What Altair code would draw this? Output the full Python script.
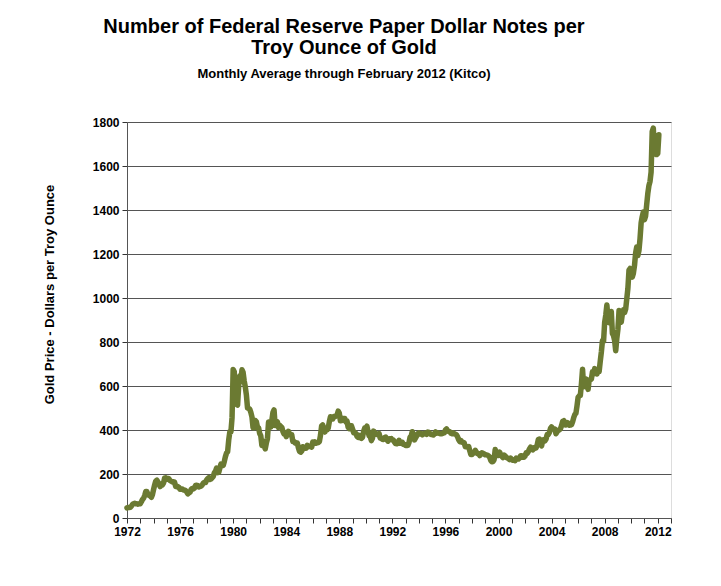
import altair as alt
import pandas as pd

# Monthly average gold price (USD / troy oz), Jan 1972 - Feb 2012
prices_1970s = [
    46, 48, 48, 49, 54, 62, 65, 67, 65, 65, 63, 64,          # 1972
    65, 74, 84, 90, 102, 120, 120, 106, 103, 100, 94, 106,   # 1973
    129, 150, 168, 172, 163, 154, 143, 154, 151, 158, 181, 183,  # 1974
    176, 180, 178, 170, 167, 164, 165, 163, 144, 142, 143, 139,  # 1975
    131, 132, 132, 128, 126, 125, 118, 110, 114, 117, 130, 134,  # 1976
    132, 136, 148, 149, 147, 141, 143, 145, 150, 159, 162, 161,  # 1977
    173, 179, 183, 175, 177, 183, 189, 206, 212, 227, 206, 208,  # 1978
    227, 245, 242, 239, 257, 279, 295, 301, 355, 392, 392, 456,  # 1979
]
prices_1980s = [
    675, 665, 554, 517, 513, 600, 645, 627, 674, 662, 623, 595,  # 1980
    558, 500, 498, 495, 480, 460, 410, 410, 443, 437, 413, 410,  # 1981
    384, 374, 330, 350, 333, 314, 340, 360, 436, 423, 413, 444,  # 1982
    480, 491, 420, 433, 437, 412, 422, 416, 412, 394, 382, 388,  # 1983
    370, 386, 394, 381, 377, 378, 348, 348, 341, 340, 341, 320,  # 1984
    303, 299, 304, 324, 316, 317, 317, 330, 324, 326, 325, 322,  # 1985
    345, 339, 346, 340, 342, 343, 348, 376, 418, 423, 397, 391,  # 1986
    408, 401, 409, 438, 460, 450, 450, 461, 460, 465, 467, 486,  # 1987
    477, 442, 443, 452, 451, 452, 437, 440, 413, 406, 420, 419,  # 1988
    404, 388, 390, 384, 371, 367, 375, 365, 362, 367, 394, 409,  # 1989
]
prices_1990s = [
    410, 417, 393, 374, 369, 352, 362, 395, 389, 381, 381, 378,  # 1990
    384, 363, 363, 358, 357, 366, 368, 356, 349, 359, 360, 361,  # 1991
    354, 354, 344, 338, 337, 341, 353, 340, 345, 344, 335, 334,  # 1992
    329, 329, 330, 342, 367, 372, 392, 379, 355, 364, 373, 383,  # 1993
    387, 382, 384, 378, 381, 385, 385, 380, 391, 389, 384, 379,  # 1994
    379, 377, 382, 391, 385, 387, 386, 383, 383, 383, 386, 387,  # 1995
    400, 405, 397, 393, 392, 385, 383, 387, 383, 381, 378, 369,  # 1996
    355, 347, 352, 344, 344, 341, 324, 324, 323, 325, 306, 289,  # 1997
    289, 297, 296, 308, 299, 292, 293, 284, 289, 296, 294, 291,  # 1998
    287, 287, 286, 282, 277, 262, 256, 257, 265, 311, 293, 284,  # 1999
]
prices_2000s = [
    284, 300, 286, 280, 275, 286, 282, 275, 273, 270, 266, 272,  # 2000
    266, 262, 263, 261, 272, 270, 268, 273, 283, 283, 276, 276,  # 2001
    282, 296, 294, 302, 314, 322, 314, 310, 319, 317, 319, 333,  # 2002
    357, 359, 340, 328, 355, 356, 351, 359, 379, 379, 389, 407,  # 2003
    414, 405, 406, 404, 383, 392, 398, 401, 405, 420, 439, 442,  # 2004
    424, 423, 434, 429, 422, 430, 424, 437, 456, 470, 476, 510,  # 2005
    549, 555, 557, 610, 676, 596, 633, 632, 598, 585, 627, 629,  # 2006
    631, 665, 654, 679, 667, 655, 665, 665, 712, 754, 806, 803,  # 2007
    889, 922, 968, 909, 888, 889, 939, 839, 829, 807, 760, 816,  # 2008
    858, 943, 924, 890, 928, 946, 934, 949, 996, 1043, 1127, 1134,  # 2009
]
prices_2010s = [
    1118, 1095, 1113, 1148, 1205, 1232, 1193, 1215, 1271, 1342, 1370, 1391,  # 2010
    1356, 1372, 1424, 1474, 1510, 1529, 1572, 1756, 1772, 1665, 1739, 1652,  # 2011
    1656, 1742,  # 2012
]

start_year = 1972
y_ticks = [0, 200, 400, 600, 800, 1000, 1200, 1400, 1600, 1800]
x_ticks = list(range(1972, 2014))

prices = prices_1970s + prices_1980s + prices_1990s + prices_2000s + prices_2010s
df = pd.DataFrame({
    "t": [start_year + i / 12 for i in range(len(prices))],
    "price": prices,
})

FONT = "Liberation Sans"

line = alt.Chart(df).mark_line(
    color="#6b7a32", strokeWidth=5.5, strokeJoin="round", strokeCap="round"
).encode(
    x=alt.X("t:Q",
            scale=alt.Scale(domain=[1972, 2013], nice=False, zero=False),
            axis=alt.Axis(values=x_ticks, grid=False, title=None,
                          labelExpr="datum.value % 4 == 0 && datum.value < 2013 ? format(datum.value, 'd') : ''",
                          labelOverlap=False, labelFlush=False, labelFontSize=12,
                          labelFontWeight="bold", labelFont=FONT, labelColor="black",
                          labelPadding=3, tickSize=5, tickColor="#333", domainColor="#555")),
    y=alt.Y("price:Q",
            scale=alt.Scale(domain=[0, 1800], nice=False),
            axis=alt.Axis(values=y_ticks, grid=True, gridColor="#555", gridWidth=1,
                          format="d",
                          title="Gold Price - Dollars per Troy Ounce",
                          titleFont=FONT, titleFontSize=13, titleFontWeight="bold",
                          titleColor="black", titleAngle=270, titleX=-78, titleY=172,
                          titleAlign="center", titleBaseline="middle",
                          labelFontSize=12, labelFontWeight="bold", labelFont=FONT,
                          labelColor="black", labelPadding=3, labelFlush=False,
                          tickSize=5, tickColor="#333", domainColor="#555")),
)

chart = line.properties(
    width=544,
    height=396,
    autosize=alt.AutoSizeParams(type="none"),
    padding={"left": 119, "top": 114, "right": 40, "bottom": 50},
    title=alt.TitleParams(
        text=["Number of Federal Reserve Paper Dollar Notes per", "Troy Ounce of Gold"],
        subtitle="Monthly Average through February 2012 (Kitco)",
        font=FONT, fontSize=20, fontWeight="bold", color="black", lineHeight=21,
        subtitleFont=FONT, subtitleFontSize=13, subtitleFontWeight="bold",
        subtitleColor="black", subtitlePadding=10,
        anchor="middle", dx=-55, offset=35,
    ),
).configure_view(
    stroke="#999", strokeDash=[2, 1], strokeWidth=1
).configure(background="white")

chart.save("out.html", embed_options={"renderer": "svg", "actions": False})
